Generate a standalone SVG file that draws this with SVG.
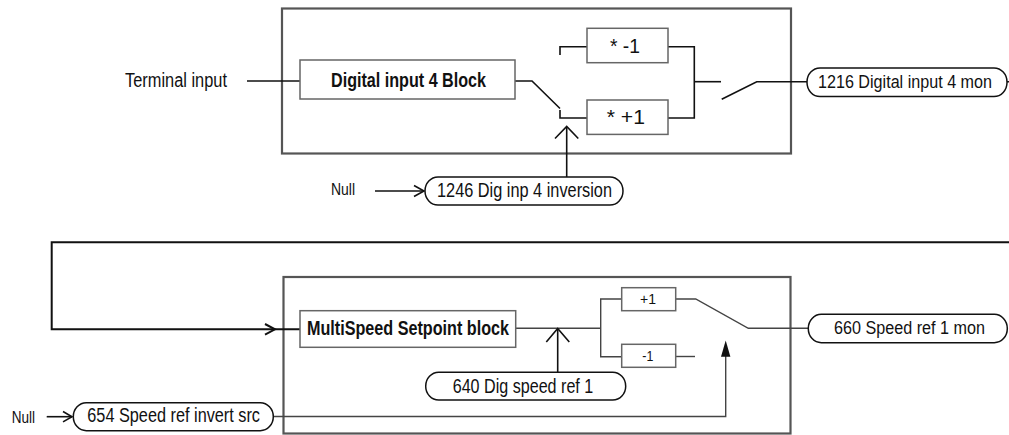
<svg xmlns="http://www.w3.org/2000/svg" width="1009" height="435" viewBox="0 0 1009 435">
<style>
text{font-family:"Liberation Sans Narrow","Liberation Sans",Arial,sans-serif;fill:#111}
.t{font-size:19.5px}
.r{font-size:17.5px}
.b{font-size:19.5px;font-weight:bold}
.s{font-size:16px}
.outer{fill:none;stroke:#555;stroke-width:2.2}
.blk{fill:#fff;stroke:#666;stroke-width:1.5}
.pill{fill:#fff;stroke:#111;stroke-width:1.5}
.ln{fill:none;stroke:#111;stroke-width:1.6}
.lg{fill:none;stroke:#444;stroke-width:1.4}
.fb{fill:none;stroke:#111;stroke-width:2}
</style>
<g id="frame-top"><rect class="outer" x="282" y="8.5" width="509" height="145"/></g>
<g id="frame-bottom"><rect class="outer" x="283.5" y="277" width="507" height="156.5"/></g>
<g id="connectors">
  <line class="ln" x1="247" y1="81" x2="300" y2="81"/>
  <polyline class="ln" points="515,81 532,81 560,108.5"/>
  <polyline class="ln" points="560,55 560,46.7 587,46.7"/>
  <polyline class="ln" points="560,110 560,118 587,118"/>
  <polyline class="ln" points="668,46.7 694.3,46.7 694.3,118 668,118"/>
  <line class="ln" x1="694.3" y1="81.7" x2="721" y2="81.7"/>
  <polyline class="ln" points="721.7,99.3 756.7,81.7 807,81.7"/>
  <line class="ln" x1="1007" y1="81.7" x2="1015" y2="81.7"/>
  <line class="ln" x1="566.7" y1="127" x2="566.7" y2="177"/>
  <polyline class="ln" points="555,138.5 566.7,126.5 578.3,138.5"/>
  <line class="ln" x1="375" y1="191" x2="424" y2="191"/>
  <polyline class="ln" points="414,185.5 424,191 414,196.5"/>
  <polyline class="fb" points="1015,242.3 51.7,242.3 51.7,329.3 300,329.3"/>
  <polyline class="fb" points="265,324 275,329.3 265,334.6"/>
  <line class="lg" x1="515.7" y1="328.3" x2="600.7" y2="328.3"/>
  <polyline class="lg" points="621.7,299 600.7,299 600.7,356.7 621.7,356.7"/>
  <line class="ln" x1="557.7" y1="329" x2="557.7" y2="372.3"/>
  <polyline class="ln" points="546.3,342 557.7,328.5 569.3,342"/>
  <polyline class="lg" points="675.7,299 695.7,299 748.3,328.3 808.3,328.3"/>
  <line class="lg" x1="675.7" y1="356.5" x2="695" y2="356.5"/>
  <polyline class="lg" points="273.3,416.5 725.7,416.5 725.7,356"/>
  <polygon points="725.7,340.5 721,356.7 730.4,356.7" fill="#111"/>
  <line class="ln" x1="46.7" y1="416.7" x2="72" y2="416.7"/>
  <polyline class="ln" points="63,411.5 72,416.7 63,421.9"/>
</g>
<g id="terminal-input"><text class="t" x="125" y="87.3" textLength="102" lengthAdjust="spacingAndGlyphs">Terminal input</text></g>
<g id="digital-input-block"><rect class="blk" x="300" y="60" width="215" height="39"/><text class="b" x="331" y="86.7" textLength="155" lengthAdjust="spacingAndGlyphs">Digital input 4 Block</text></g>
<g id="mul-neg"><rect class="blk" x="587" y="28.3" width="81" height="34.4"/><text class="t" style="font-size:21px" x="610" y="53.3" textLength="30" lengthAdjust="spacingAndGlyphs">* -1</text></g>
<g id="mul-pos"><rect class="blk" x="587" y="100" width="81" height="34.4"/><text class="t" style="font-size:21px" x="606.7" y="124" textLength="38.3" lengthAdjust="spacingAndGlyphs">* +1</text></g>
<g id="p1216"><rect class="pill" x="807" y="68" width="200" height="28.5" rx="13" ry="14"/><text class="r" x="818" y="88.3" textLength="174" lengthAdjust="spacingAndGlyphs">1216 Digital input 4 mon</text></g>
<g id="null-top"><text class="s" x="331" y="195" textLength="24" lengthAdjust="spacingAndGlyphs">Null</text></g>
<g id="p1246"><rect class="pill" x="425" y="177" width="198" height="28" rx="13" ry="14"/><text class="t" x="437" y="197.3" textLength="175" lengthAdjust="spacingAndGlyphs">1246 Dig inp 4 inversion</text></g>
<g id="multispeed-block"><rect class="blk" x="300" y="310.7" width="215.7" height="36.6"/><text class="b" x="307" y="335" textLength="202" lengthAdjust="spacingAndGlyphs">MultiSpeed Setpoint block</text></g>
<g id="plus1"><rect class="blk" x="621.7" y="287.7" width="54" height="23"/><text class="s" style="font-size:14px" x="640" y="304" textLength="16" lengthAdjust="spacingAndGlyphs">+1</text></g>
<g id="minus1"><rect class="blk" x="621.7" y="344.3" width="54" height="23"/><text class="s" style="font-size:14px" x="642.3" y="360.7" textLength="11" lengthAdjust="spacingAndGlyphs">-1</text></g>
<g id="p640"><rect class="pill" x="425.7" y="372.3" width="200" height="27.7" rx="13" ry="14"/><text class="t" x="452.7" y="392.7" textLength="140.6" lengthAdjust="spacingAndGlyphs">640 Dig speed ref 1</text></g>
<g id="p660"><rect class="pill" x="808.3" y="314.3" width="199" height="28.4" rx="13" ry="14"/><text class="r" x="834" y="334.3" textLength="151" lengthAdjust="spacingAndGlyphs">660 Speed ref 1 mon</text></g>
<g id="null-bottom"><text class="s" x="11.7" y="423" textLength="23.3" lengthAdjust="spacingAndGlyphs">Null</text></g>
<g id="p654"><rect class="pill" x="73.3" y="402.7" width="200" height="28" rx="13" ry="14"/><text class="t" x="87.3" y="421.7" textLength="172.7" lengthAdjust="spacingAndGlyphs">654 Speed ref invert src</text></g>
</svg>
